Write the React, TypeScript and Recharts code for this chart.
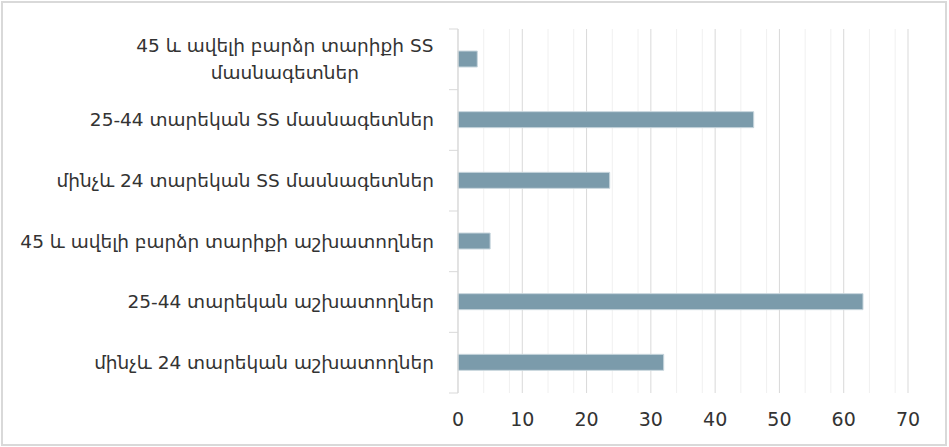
import React from 'react';
import { BarChart, Bar, XAxis, YAxis, CartesianGrid } from 'recharts';

const categories = [
  '45 և ավելի բարձր տարիքի SS մասնագետներ',
  '25-44 տարեկան SS մասնագետներ',
  'մինչև 24 տարեկան SS մասնագետներ',
  '45 և ավելի բարձր տարիքի աշխատողներ',
  '25-44 տարեկան աշխատողներ',
  'մինչև 24 տարեկան աշխատողներ',
];
const values = [3, 46, 23.6, 5, 63, 32];
const majorTicks = [0, 10, 20, 30, 40, 50, 60, 70];
const minorTicks = [2, 4, 6, 8, 12, 14, 16, 18, 22, 24, 26, 28, 32, 34, 36, 38, 42, 44, 46, 48, 52, 54, 56, 58, 62, 64, 66, 68];

const data = categories.map((name, i) => ({ name, value: values[i] }));

const W = 949;
const H = 447;
const MARGIN = { top: 29, right: 41, bottom: 0, left: 0 };
const Y_AXIS_W = 458;
const X_AXIS_H = 54;
const BAND = (H - MARGIN.top - X_AXIS_H) / categories.length;
const FONT = '"DejaVu Sans", sans-serif';
const LABEL_SIZE = 18.5;
const MAX_CHARS = 36;

const wrap = (s: string) => {
  if (s.length <= MAX_CHARS) return [s];
  const idx = s.lastIndexOf(' ');
  return [s.slice(0, idx), s.slice(idx + 1)];
};

const CategoryTick = (props: any) => {
  const { y, payload, index } = props;
  const axisX = Y_AXIS_W;
  const textX = axisX - 24;
  const lines = wrap(payload.value);
  const top = y - BAND / 2;
  return (
    <g>
      <line x1={axisX - 9} x2={axisX} y1={top} y2={top} stroke="#d9d9d9" />
      {index === categories.length - 1 && (
        <line x1={axisX - 9} x2={axisX} y1={top + BAND} y2={top + BAND} stroke="#d9d9d9" />
      )}
      {lines.length === 1 ? (
        <text x={textX} y={y} dy="0.35em" textAnchor="end" fill="#333" fontSize={LABEL_SIZE} fontFamily={FONT}>
          {lines[0]}
        </text>
      ) : (
        <text textAnchor="middle" fill="#333" fontSize={LABEL_SIZE} fontFamily={FONT}>
          {lines.map((l, i) => (
            <tspan key={i} x={textX - lines[0].length * LABEL_SIZE * 0.31} y={y - 14 + i * 27} dy="0.35em">
              {l}
            </tspan>
          ))}
        </text>
      )}
    </g>
  );
};

export default function App() {
  return (
    <div style={{ position: 'absolute', left: 0, top: 0, width: W, height: H, background: '#fff' }}>
      <div
        style={{
          position: 'absolute',
          left: 1,
          top: 1,
          width: 946,
          height: 445,
          boxSizing: 'border-box',
          border: '2px solid #d9d9d9',
        }}
      />
      <div style={{ position: 'absolute', left: 0, top: 0 }}>
        <BarChart width={W} height={H} data={data} layout="vertical" margin={MARGIN}>
          <CartesianGrid horizontal={false} verticalValues={minorTicks} stroke="#f0f0f0" />
          <CartesianGrid horizontal={false} verticalValues={majorTicks} stroke="#d9d9d9" />
          <XAxis
            type="number"
            domain={[0, 70]}
            ticks={majorTicks}
            height={X_AXIS_H}
            axisLine={false}
            tickLine={false}
            tickMargin={14}
            tick={{ fill: '#333', fontSize: 19, fontFamily: FONT }}
          />
          <YAxis
            type="category"
            dataKey="name"
            width={Y_AXIS_W}
            axisLine={{ stroke: '#d9d9d9' }}
            tickLine={false}
            tick={<CategoryTick />}
            interval={0}
          />
          <Bar dataKey="value" fill="#7b9bab" stroke="#c8d6dd" strokeWidth={1} barSize={16} isAnimationActive={false} />
        </BarChart>
      </div>
    </div>
  );
}
